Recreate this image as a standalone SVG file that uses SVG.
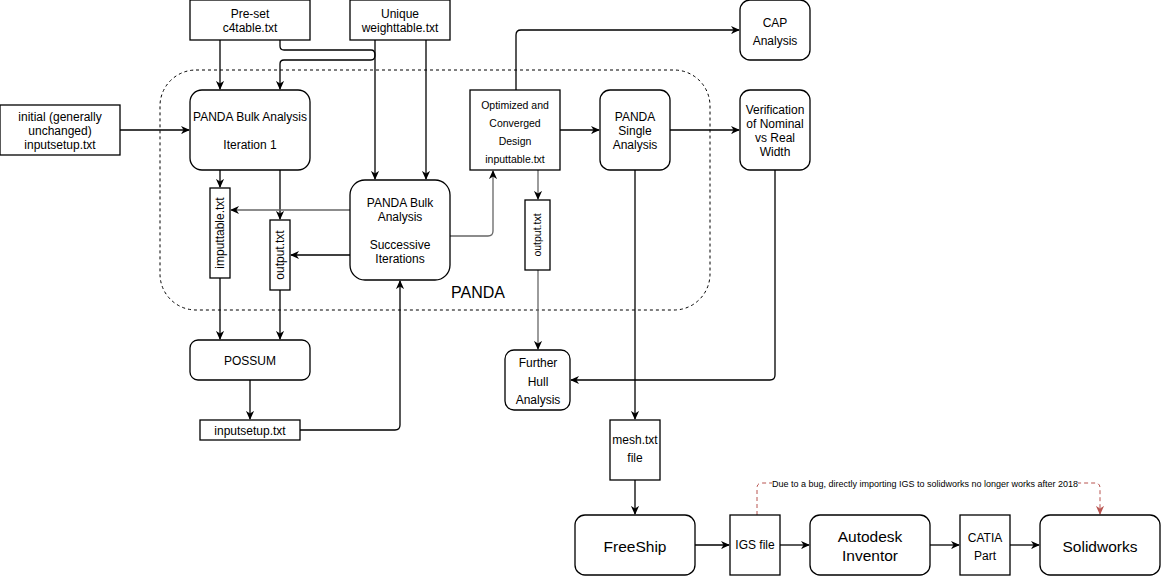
<svg xmlns="http://www.w3.org/2000/svg" width="1161" height="576" viewBox="0 0 1161 576">
<defs>
<marker id="arr" viewBox="0 0 10 10" refX="9" refY="5" markerWidth="9" markerHeight="9" markerUnits="userSpaceOnUse" orient="auto">
<path d="M0,0.5 L10,5 L0,9.5 L3,5 z" fill="#000"/>
</marker>
<marker id="arrR" viewBox="0 0 10 10" refX="9" refY="5" markerWidth="9" markerHeight="9" markerUnits="userSpaceOnUse" orient="auto">
<path d="M0,0.5 L10,5 L0,9.5 L3,5 z" fill="#b85450"/>
</marker>
</defs>
<style>
.b{fill:#fff;stroke:#000;stroke-width:1.3}
.t{font-family:"Liberation Sans",Arial,sans-serif;font-size:12px;fill:#000;text-anchor:middle}
.s{font-size:10.5px}
.l{font-size:15.5px}
.c{fill:none;stroke:#000;stroke-width:1.3;marker-end:url(#arr)}
.g{stroke:#666}
</style>
<rect width="1161" height="576" fill="#fff"/>
<g id="panda-container">
<rect x="160" y="70" width="550" height="240" rx="36" fill="none" stroke="#000" stroke-width="1" stroke-dasharray="3,3"/>
<text class="t" x="478" y="298" style="font-size:16px">PANDA</text>
</g>
<g id="connectors">
<path class="c" d="M220,40 V89"/>
<path class="c" d="M280,40 V46 Q280,50 284,50 H371 Q375,50 375,55 Q375,60 371,60 H284 Q280,60 280,64 V89"/>
<path class="c" d="M375,40 V179"/>
<path class="c" d="M426,40 V179"/>
<path class="c" d="M120,130 H189"/>
<path class="c" d="M220,170 V187"/>
<path class="c" d="M280,170 V219"/>
<path class="c g" d="M350,210 H231"/>
<path class="c" d="M350,255 H291"/>
<path class="c" d="M220,278 V339"/>
<path class="c" d="M280,290 V339"/>
<path class="c" d="M250,380 V419"/>
<path class="c" d="M300,430 H395 Q400,430 400,425 V281"/>
<path class="c g" d="M450,236 H488 Q493,236 493,231 V171"/>
<path class="c" d="M516,90 V35 Q516,30 521,30 H739"/>
<path class="c" d="M560,130 H599"/>
<path class="c" d="M670,130 H739"/>
<path class="c g" d="M538,170 V199"/>
<path class="c g" d="M538,270 V349"/>
<path class="c" d="M635,170 V419"/>
<path class="c" d="M775,170 V375 Q775,380 770,380 H571"/>
<path class="c" d="M635,480 V514"/>
<path class="c" d="M695,545 H729"/>
<path class="c" d="M780,545 H809"/>
<path class="c" d="M930,545 H959"/>
<path class="c" d="M1010,545 H1039"/>
<path d="M757,515 V488 Q757,483 762,483 H1095 Q1100,483 1100,488 V514" fill="none" stroke="#b85450" stroke-width="1" stroke-dasharray="4,3" marker-end="url(#arrR)"/>
<rect x="772" y="477" width="306" height="13" fill="#fff"/>
<text class="t" x="925" y="487" style="font-size:9px">Due to a bug, directly importing IGS to solidworks no longer works after 2018</text>
</g>
<g id="preset">
<rect class="b" x="190" y="0" width="120" height="40"/>
<text class="t" x="250" y="18">Pre-set</text>
<text class="t" x="250" y="32">c4table.txt</text>
</g>
<g id="weighttable">
<rect class="b" x="350" y="0" width="100" height="40"/>
<text class="t" x="400" y="18">Unique</text>
<text class="t" x="400" y="32">weighttable.txt</text>
</g>
<g id="initial">
<rect class="b" x="0" y="105" width="120" height="50"/>
<text class="t" x="60" y="121">initial (generally</text>
<text class="t" x="60" y="135">unchanged)</text>
<text class="t" x="60" y="149">inputsetup.txt</text>
</g>
<g id="iteration1">
<rect class="b" x="190" y="90" width="120" height="80" rx="12"/>
<text class="t" x="250" y="121">PANDA Bulk Analysis</text>
<text class="t" x="250" y="149">Iteration 1</text>
</g>
<g id="imputtable">
<rect class="b" x="210" y="188" width="20" height="90"/>
<text class="t" transform="translate(224,233) rotate(-90)">imputtable.txt</text>
</g>
<g id="output1">
<rect class="b" x="270" y="220" width="20" height="70"/>
<text class="t" transform="translate(284,255) rotate(-90)">output.txt</text>
</g>
<g id="successive">
<rect class="b" x="350" y="180" width="100" height="100" rx="15"/>
<text class="t" x="400" y="207">PANDA Bulk</text>
<text class="t" x="400" y="221">Analysis</text>
<text class="t" x="400" y="249">Successive</text>
<text class="t" x="400" y="263">Iterations</text>
</g>
<g id="optimized">
<rect class="b" x="470" y="90" width="90" height="80"/>
<text class="t s" x="515" y="109">Optimized and</text>
<text class="t s" x="515" y="127">Converged</text>
<text class="t s" x="515" y="145">Design</text>
<text class="t s" x="515" y="163">inputtable.txt</text>
</g>
<g id="output2">
<rect class="b" x="525" y="200" width="25" height="70"/>
<text class="t s" transform="translate(541,235) rotate(-90)">output.txt</text>
</g>
<g id="single">
<rect class="b" x="600" y="90" width="70" height="80" rx="10"/>
<text class="t" x="635" y="121">PANDA</text>
<text class="t" x="635" y="135">Single</text>
<text class="t" x="635" y="149">Analysis</text>
</g>
<g id="cap">
<rect class="b" x="740" y="0" width="70" height="60" rx="10"/>
<text class="t" x="775" y="27">CAP</text>
<text class="t" x="775" y="45">Analysis</text>
</g>
<g id="verification">
<rect class="b" x="740" y="90" width="70" height="80" rx="10"/>
<text class="t" x="775" y="114">Verification</text>
<text class="t" x="775" y="128">of Nominal</text>
<text class="t" x="775" y="142">vs Real</text>
<text class="t" x="775" y="156">Width</text>
</g>
<g id="possum">
<rect class="b" x="190" y="340" width="120" height="40" rx="8"/>
<text class="t" x="250" y="365">POSSUM</text>
</g>
<g id="inputsetup">
<rect class="b" x="200" y="420" width="100" height="20"/>
<text class="t" x="250" y="435">inputsetup.txt</text>
</g>
<g id="hull">
<rect class="b" x="505" y="350" width="65" height="60" rx="9"/>
<text class="t" x="538" y="367">Further</text>
<text class="t" x="538" y="386">Hull</text>
<text class="t" x="538" y="404">Analysis</text>
</g>
<g id="mesh">
<rect class="b" x="610" y="420" width="50" height="60"/>
<text class="t" x="635" y="444">mesh.txt</text>
<text class="t" x="635" y="462">file</text>
</g>
<g id="freeship">
<rect class="b" x="575" y="515" width="120" height="60" rx="10"/>
<text class="t l" x="635" y="552">FreeShip</text>
</g>
<g id="igs">
<rect class="b" x="730" y="515" width="50" height="60"/>
<text class="t" x="755" y="549">IGS file</text>
</g>
<g id="inventor">
<rect class="b" x="810" y="515" width="120" height="60" rx="10"/>
<text class="t l" x="870" y="542">Autodesk</text>
<text class="t l" x="870" y="561">Inventor</text>
</g>
<g id="catia">
<rect class="b" x="960" y="515" width="50" height="60"/>
<text class="t" x="985" y="542">CATIA</text>
<text class="t" x="985" y="560">Part</text>
</g>
<g id="solidworks">
<rect class="b" x="1040" y="515" width="120" height="60" rx="10"/>
<text class="t l" x="1100" y="552">Solidworks</text>
</g>
</svg>
